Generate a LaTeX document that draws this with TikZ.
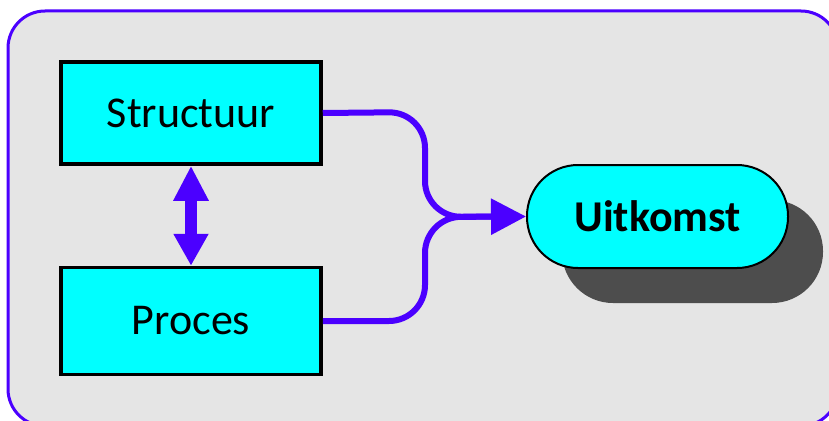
\documentclass[tikz,border=0pt]{standalone}
\usepackage{fontspec}
\setmainfont{Carlito}
\usetikzlibrary{arrows.meta,shadows}
\definecolor{violetline}{RGB}{75,0,255}
\definecolor{panelgray}{RGB}{229,229,229}
\definecolor{shadowgray}{RGB}{77,77,77}
\definecolor{aqua}{RGB}{0,255,255}
\tikzset{
  box/.style={draw=black, line width=3.5pt, fill=aqua, minimum width=260pt,
    minimum height=102pt, inner sep=0pt, font=\fontsize{44}{50}\selectfont},
  pill/.style={draw=black, line width=2pt, fill=aqua, rounded corners=51pt,
    minimum width=261pt, minimum height=103pt, inner sep=0pt,
    font=\fontsize{44}{50}\selectfont\bfseries,
    drop shadow={shadow xshift=35pt, shadow yshift=-35pt, fill=shadowgray, opacity=1}},
  flow/.style={draw=violetline, line width=6pt, rounded corners=36pt},
  link/.style={draw=violetline, line width=12pt,
    {Triangle[length=35pt,width=33pt]}-{Triangle[length=32pt,width=33pt]}},
}
\begin{document}
\begin{tikzpicture}[x=1pt,y=-1pt]
\useasboundingbox (0,0) rectangle (829,420);
% panel behind everything
\draw[violetline, line width=3pt, fill=panelgray, rounded corners=37pt]
  (8,11) rectangle (838,426);

\node[box] (s) at (191,113) {Structuur};
\node[box, minimum height=107pt] (p) at (191,321) {Proces};
\node[pill] (u) at (657.5,216.5) {Uitkomst};

% structure and process meet and lead to the outcome
\draw[flow] (s.east) -- (425,112) -- (425,217) -- ([xshift=-25pt]u.west);
\draw[flow, -{Triangle[length=35pt,width=35pt]}] (p.east) -- (425,321) -- (425,217) -- (u.west);

% structure <-> process
\draw[link] (s.south) -- (p.north);
\end{tikzpicture}
\end{document}
